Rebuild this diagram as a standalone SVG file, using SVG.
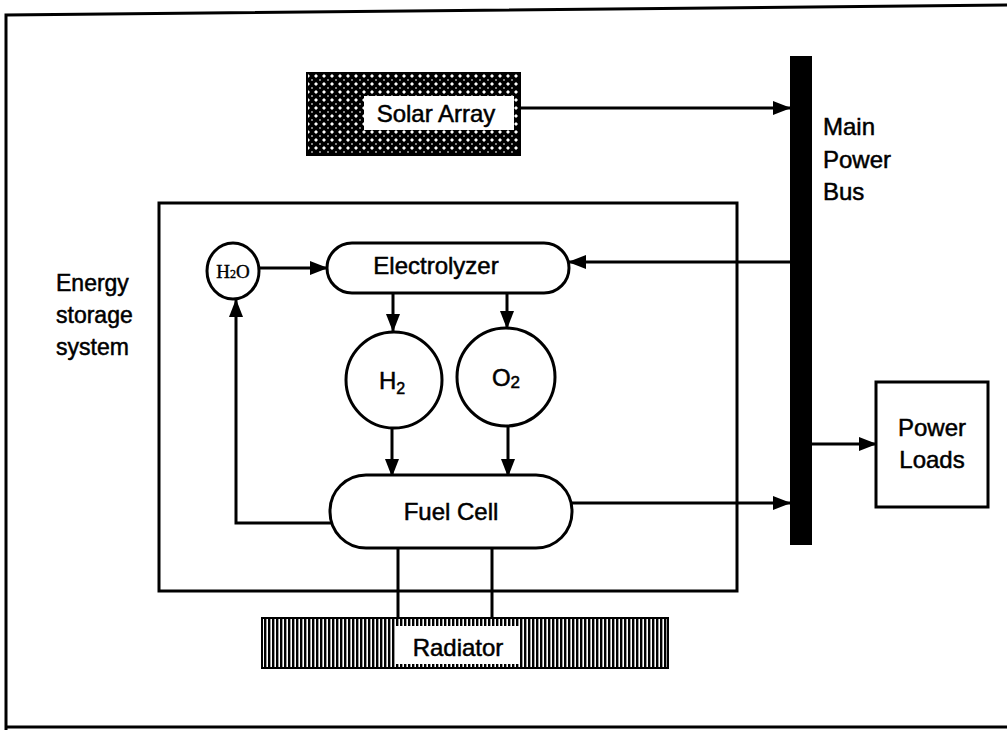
<svg xmlns="http://www.w3.org/2000/svg" width="1007" height="730" viewBox="0 0 1007 730">
<style>
.ln{fill:none;stroke:#000;stroke-width:3}
.bx{fill:#fff;stroke:#000;stroke-width:3}
.t{font-family:"Liberation Sans",Arial,sans-serif;font-size:24px;fill:#000;stroke:#000;stroke-width:0.5}
.s{font-size:23px}
.c{text-anchor:middle}
</style>
<defs>
<marker id="ah" markerWidth="18" markerHeight="14" refX="17" refY="7" orient="auto" markerUnits="userSpaceOnUse">
<path d="M0,0 L18,7 L0,14 Z" fill="#000"/>
</marker>
<pattern id="cross" width="8" height="8" patternUnits="userSpaceOnUse">
<rect width="8" height="8" fill="#000"/>
<path d="M4,2 L6,4 L4,6 L2,4 Z" fill="#fff"/>
<path d="M0,0 L1,0 L0,1 Z M8,0 L7,0 L8,1 Z M0,8 L1,8 L0,7 Z M8,8 L7,8 L8,7 Z" fill="#fff"/>
</pattern>
<pattern id="vert" width="4" height="10" patternUnits="userSpaceOnUse">
<rect width="4" height="10" fill="#fff"/>
<rect width="2.4" height="10" fill="#000"/>
</pattern>
</defs>
<rect width="1007" height="730" fill="#fff"/>
<g id="frame">
<path class="ln" d="M1007,5 L6,15 L6,730" />
<path class="ln" d="M6,727 L1007,727"/>
</g>
<g id="connectors">
<line class="ln" x1="520" y1="108" x2="790" y2="108" marker-end="url(#ah)"/>
<line class="ln" x1="790" y1="262" x2="569" y2="262" marker-end="url(#ah)"/>
<line class="ln" x1="260" y1="268" x2="327" y2="268" marker-end="url(#ah)"/>
<line class="ln" x1="393" y1="293" x2="393" y2="331" marker-end="url(#ah)"/>
<line class="ln" x1="507" y1="293" x2="507" y2="328" marker-end="url(#ah)"/>
<line class="ln" x1="392" y1="429" x2="392" y2="476" marker-end="url(#ah)"/>
<line class="ln" x1="508" y1="426" x2="508" y2="476" marker-end="url(#ah)"/>
<path class="ln" d="M331,523 L236,523 L236,300" marker-end="url(#ah)"/>
<line class="ln" x1="572" y1="503" x2="790" y2="503" marker-end="url(#ah)"/>
<line class="ln" x1="812" y1="444" x2="876" y2="444" marker-end="url(#ah)"/>
<line class="ln" x1="398" y1="548" x2="398" y2="619"/>
<line class="ln" x1="492" y1="548" x2="492" y2="619"/>
</g>
<g id="energy-storage">
<rect class="ln" x="159" y="203" width="578" height="388"/>
<text class="t s" x="56" y="291">Energy</text>
<text class="t s" x="56" y="323">storage</text>
<text class="t s" x="56" y="355">system</text>
</g>
<g id="solar-array">
<rect x="307" y="73" width="213" height="82" fill="url(#cross)" stroke="#000" stroke-width="2"/>
<rect x="364" y="96" width="150" height="34" fill="#fff"/>
<text class="t c" x="436" y="122">Solar Array</text>
</g>
<g id="main-power-bus">
<rect x="790" y="56" width="22" height="489" fill="#000"/>
<text class="t" x="823" y="135">Main</text>
<text class="t" x="823" y="168">Power</text>
<text class="t" x="823" y="200">Bus</text>
</g>
<g id="h2o">
<ellipse class="bx" cx="233" cy="271" rx="26" ry="28"/>
<text x="233" y="278" text-anchor="middle" font-family="'Liberation Serif','Times New Roman',serif" font-size="19" stroke="#000" stroke-width="0.4">H<tspan font-size="12">2</tspan>O</text>
</g>
<g id="electrolyzer">
<rect class="bx" x="327" y="243" width="242" height="50" rx="25" ry="25"/>
<text class="t c" x="436" y="274">Electrolyzer</text>
</g>
<g id="h2">
<circle class="bx" cx="394" cy="380" r="48"/>
<text class="t c" x="392" y="389">H<tspan font-size="16" dy="5">2</tspan></text>
</g>
<g id="o2">
<circle class="bx" cx="506" cy="377" r="49"/>
<text class="t c" x="506" y="386">O<tspan font-size="17" dy="2">2</tspan></text>
</g>
<g id="fuel-cell">
<rect class="bx" x="330" y="475" width="242" height="73" rx="36" ry="36"/>
<text class="t c" x="451" y="520">Fuel Cell</text>
</g>
<g id="power-loads">
<rect class="bx" x="876" y="382" width="112" height="125"/>
<text class="t c" x="932" y="436">Power</text>
<text class="t c" x="932" y="468">Loads</text>
</g>
<g id="radiator">
<rect x="262" y="618" width="406" height="50" fill="url(#vert)" stroke="#000" stroke-width="2"/>
<rect x="396" y="626" width="124" height="38" fill="#fff"/>
<text class="t c" x="458" y="656">Radiator</text>
</g>
</svg>
